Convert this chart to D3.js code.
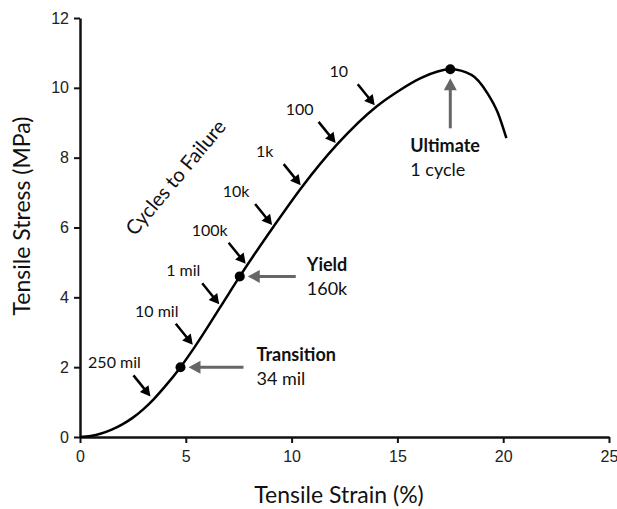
<!DOCTYPE html>
<html>
<head>
<meta charset="utf-8">
<script src="https://cdn.jsdelivr.net/npm/d3@7"></script>
<style>
  body { margin: 0; background: #fff; }
  svg text { font-family: Lato, "Open Sans", sans-serif; fill: #111; }
</style>
</head>
<body>
<div id="chart"></div>
<script>
// stress-strain curve
const strain = [0, 0.5, 1, 1.5, 2, 2.5, 3, 3.5, 4, 4.75, 5.4, 6.65, 7.55, 9.15, 10.5, 12.15, 14.0, 15.0, 16.1, 17.5, 18.5, 19.25, 19.75, 20.15];
const stress = [0, 0.03, 0.1, 0.21, 0.36, 0.555, 0.8, 1.095, 1.435, 2.0, 2.56, 3.74, 4.6, 6.03, 7.17, 8.38, 9.46, 9.89, 10.28, 10.53, 10.37, 9.85, 9.28, 8.56];

// cycles-to-failure arrows
const cycleLabels = ["250 mil", "10 mil", "1 mil", "100k", "10k", "1k", "100", "10"];
const cycleStrain = [3.4, 5.4, 6.65, 7.9, 9.15, 10.5, 12.15, 14.0];
const cycleStress = [1.12, 2.6, 3.76, 4.92, 6.03, 7.17, 8.38, 9.46];

// marked points
const pointNames = ["Transition", "Yield", "Ultimate"];
const pointCycles = ["34 mil", "160k", "1 cycle"];
const pointStrain = [4.75, 7.55, 17.5];
const pointStress = [2.0, 4.6, 10.53];

const xTicks = [0, 5, 10, 15, 20, 25];
const yTicks = [0, 2, 4, 6, 8, 10, 12];

const width = 617;
const height = 509;
const margin = { top: 18, right: 8, bottom: 72, left: 80 };

const svg = d3
  .select("#chart")
  .append("svg")
  .attr("width", width)
  .attr("height", height);

const x = d3.scaleLinear().domain([0, 25]).range([margin.left, width - margin.right]);
const y = d3.scaleLinear().domain([0, 12]).range([height - margin.bottom, margin.top]);

// axes
const xAxis = svg
  .append("g")
  .attr("transform", `translate(0,${y(0)})`)
  .call(d3.axisBottom(x).tickValues(xTicks).tickSize(6).tickSizeOuter(0).tickPadding(8));

const yAxis = svg
  .append("g")
  .attr("transform", `translate(${x(0)},0)`)
  .call(d3.axisLeft(y).tickValues(yTicks).tickSize(6).tickSizeOuter(0).tickPadding(5));

[xAxis, yAxis].forEach((a) => {
  a.attr("font-size", 16).attr("font-family", '"Liberation Sans", Arial, sans-serif');
  a.select(".domain").attr("stroke", "#111").attr("stroke-width", 2.5);
  a.selectAll(".tick line").attr("stroke", "#111").attr("stroke-width", 2);
  a.selectAll(".tick text")
    .style("font-family", '"Liberation Sans", Arial, sans-serif')
    .style("font-size", "16px")
    .style("fill", "#222");
});

svg
  .append("text")
  .attr("x", 339)
  .attr("y", 503)
  .attr("text-anchor", "middle")
  .style("font-size", "23px")
  .text("Tensile Strain (%)");

svg
  .append("text")
  .attr("transform", "translate(30,216) rotate(-90)")
  .attr("text-anchor", "middle")
  .style("font-size", "23px")
  .text("Tensile Stress (MPa)");

// curve
const line = d3
  .line()
  .x((d, i) => x(strain[i]))
  .y((d, i) => y(stress[i]))
  .curve(d3.curveMonotoneX);

svg
  .append("path")
  .datum(strain)
  .attr("d", line)
  .attr("fill", "none")
  .attr("stroke", "#000")
  .attr("stroke-width", 2.5);

function arrow(x1, y1, x2, y2, color, w, headLen, headW) {
  const dx = x2 - x1, dy = y2 - y1, len = Math.hypot(dx, dy);
  const ux = dx / len, uy = dy / len;
  const bx = x2 - ux * headLen, by = y2 - uy * headLen;
  svg
    .append("line")
    .attr("x1", x1)
    .attr("y1", y1)
    .attr("x2", bx + ux)
    .attr("y2", by + uy)
    .attr("stroke", color)
    .attr("stroke-width", w);
  svg
    .append("path")
    .attr("d", `M${x2},${y2}L${bx - uy * headW},${by + ux * headW}L${bx + uy * headW},${by - ux * headW}Z`)
    .attr("fill", color);
}

// cycles to failure arrows + labels
cycleLabels.forEach((lab, i) => {
  const tx = x(cycleStrain[i]) - 1.5;
  const ty = y(cycleStress[i]) - 1.5;
  arrow(tx - 17, ty - 21, tx, ty, "#000", 2.5, 10, 5.5);
  svg
    .append("text")
    .attr("x", tx - 36)
    .attr("y", ty - 28)
    .attr("text-anchor", "middle")
    .style("font-size", "16px")
    .text(lab);
});

svg
  .append("text")
  .attr("transform", "translate(181,182) rotate(-50)")
  .attr("text-anchor", "middle")
  .style("font-size", "20px")
  .text("Cycles to Failure");

// marked points
const gray = "#666";
pointNames.forEach((name, i) => {
  const px = x(pointStrain[i]);
  const py = y(pointStress[i]);
  svg.append("circle").attr("cx", px).attr("cy", py).attr("r", 5).attr("fill", "#000");

  let lx, ly;
  if (name === "Ultimate") {
    arrow(px, py + 59, px, py + 9, gray, 3, 12, 6.5);
    lx = px - 40;
    ly = py + 83;
  } else if (name === "Yield") {
    arrow(px + 56, py, px + 8, py, gray, 3, 12, 6.5);
    lx = px + 67;
    ly = py - 5;
  } else {
    arrow(px + 63, py, px + 8, py, gray, 3, 12, 6.5);
    lx = px + 76;
    ly = py - 6;
  }
  svg
    .append("text")
    .attr("x", lx)
    .attr("y", ly)
    .style("font-size", "18px")
    .style("font-weight", "bold")
    .text(name);
  svg
    .append("text")
    .attr("x", lx)
    .attr("y", ly + 24)
    .style("font-size", "18px")
    .text(pointCycles[i]);
});
</script>
</body>
</html>
